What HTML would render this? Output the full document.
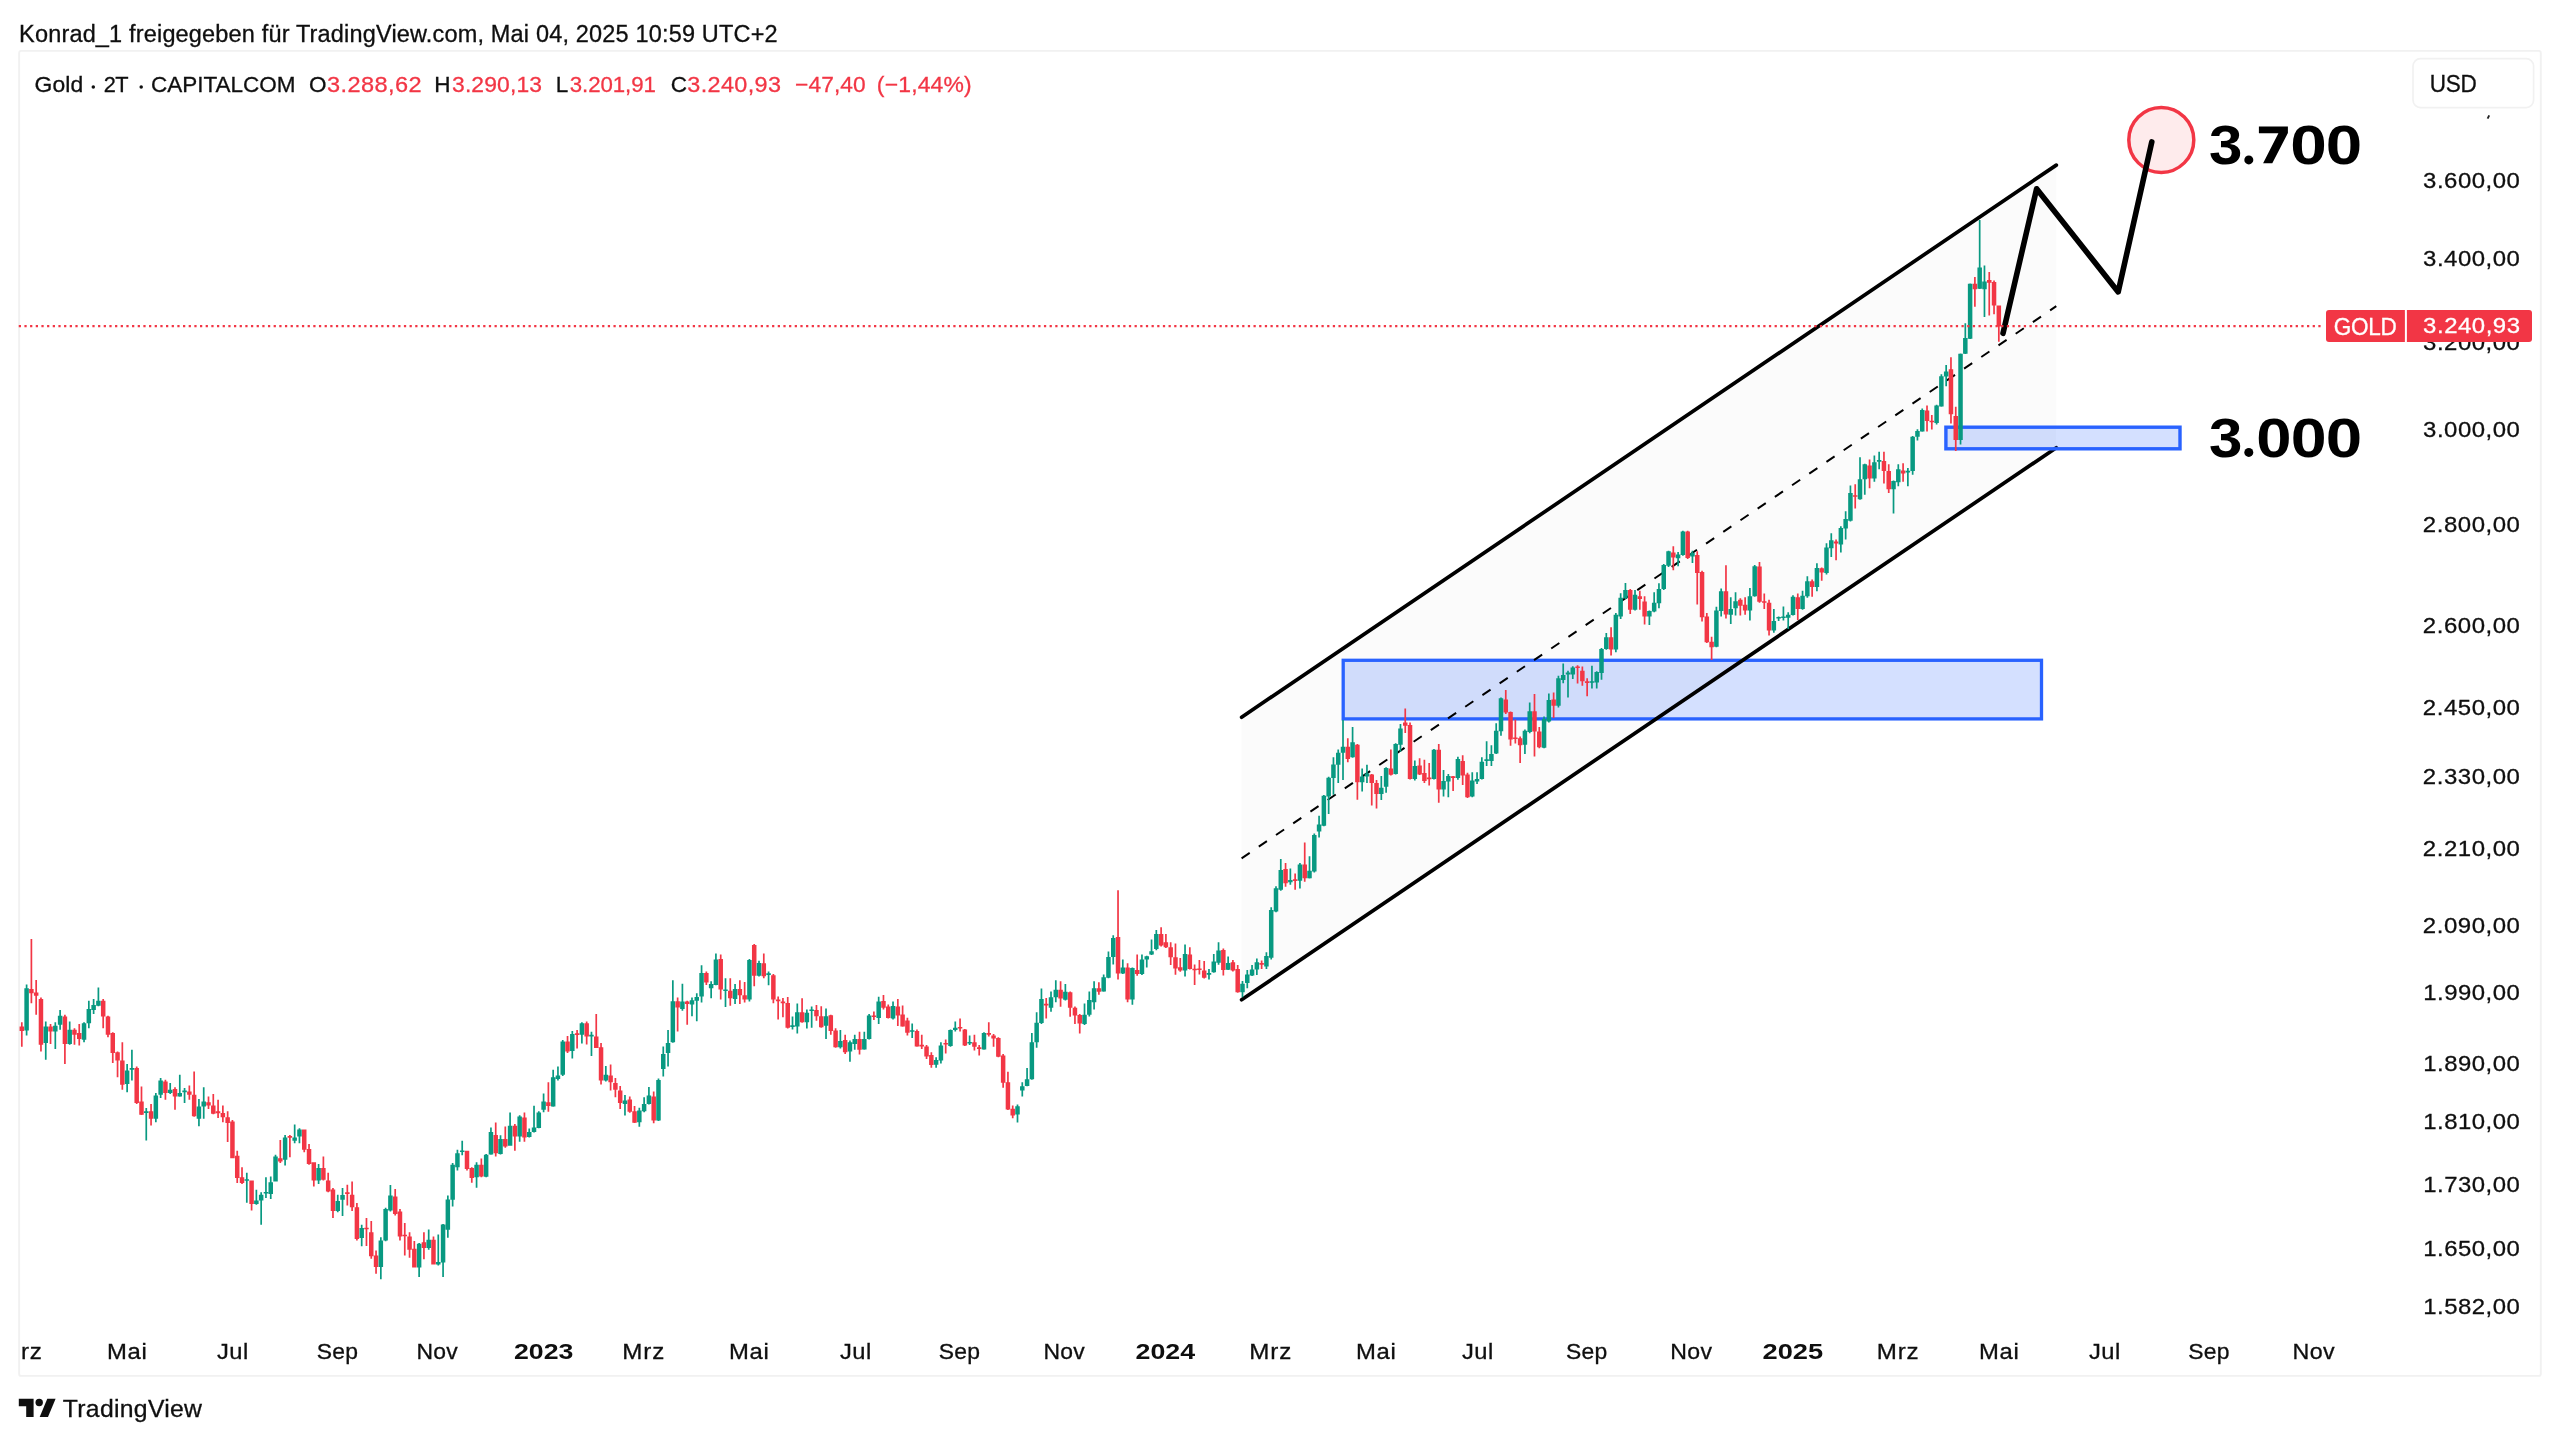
<!DOCTYPE html>
<html lang="de"><head><meta charset="utf-8"><title>Gold 2T</title>
<style>
html,body{margin:0;padding:0;background:#fff;}
body{width:2560px;height:1442px;overflow:hidden;font-family:"Liberation Sans",sans-serif;}
svg{display:block;position:absolute;left:0;top:0;will-change:transform;}
svg text{font-family:"Liberation Sans",sans-serif;white-space:pre;}
</style></head>
<body>
<svg width="2560" height="1442" viewBox="0 0 2560 1442">
<rect x="19.15" y="50.9" width="2521.65" height="1325" rx="2" fill="none" stroke="#f1f1f1" stroke-width="1.9"/>
<path d="M1241.6,717.2 L2056.3,165.1 L2056.3,447.7 L1241.6,999.8 Z" fill="#fbfbfb"/>
<rect x="1343.2" y="660.3" width="698.3" height="58.60000000000002" fill="rgba(41,98,255,0.2)" stroke="#2962ff" stroke-width="3.3"/>
<path d="M1241.6,858.3 L2056.3,306.2" stroke="#000" stroke-width="2" stroke-dasharray="9.8,10.98" fill="none"/>
<path d="M1241.6,717.2 L2056.3,165.1 M1241.6,999.8 L2056.3,447.7" stroke="#000" stroke-width="3.7" stroke-linecap="round" fill="none"/>
<rect x="1945.9" y="427.2" width="234.0999999999999" height="21.600000000000023" fill="rgba(41,98,255,0.2)" stroke="#2962ff" stroke-width="3.4"/>
<circle cx="2161.3" cy="139.9" r="32.5" fill="rgba(242,54,69,0.1)" stroke="#f23645" stroke-width="3.5"/>
<path d="M2003,333.3 L2036.6,188.8 L2118.2,291.9 L2151.8,141.9" stroke="#000" stroke-width="5.6" stroke-linecap="round" stroke-linejoin="round" fill="none"/>
<path d="M20.96,1022.3h1.7V1046.8h-1.7ZM19.56,1026.5h4.5V1031.1h-4.5ZM30.54,939.1h1.7V1003.2h-1.7ZM29.14,989.1h4.5V993.2h-4.5ZM35.32,979.9h1.7V1014.8h-1.7ZM33.92,992.4h4.5V995.7h-4.5ZM40.11,997.4h1.7V1051.4h-1.7ZM38.71,999.0h4.5V1044.8h-4.5ZM49.68,1024.0h1.7V1044.0h-1.7ZM48.28,1026.5h4.5V1031.5h-4.5ZM64.05,1014.8h1.7V1063.9h-1.7ZM62.65,1016.5h4.5V1044.0h-4.5ZM73.62,1028.2h1.7V1044.8h-1.7ZM72.22,1029.8h4.5V1034.8h-4.5ZM78.41,1024.0h1.7V1045.6h-1.7ZM77.01,1033.1h4.5V1039.0h-4.5ZM102.34,999.0h1.7V1028.2h-1.7ZM100.94,1000.7h4.5V1016.5h-4.5ZM107.13,1015.7h1.7V1037.3h-1.7ZM105.73,1016.5h4.5V1034.8h-4.5ZM111.92,1032.3h1.7V1063.1h-1.7ZM110.52,1033.1h4.5V1053.1h-4.5ZM116.70,1051.4h1.7V1077.2h-1.7ZM115.30,1052.3h4.5V1060.6h-4.5ZM121.49,1042.3h1.7V1089.7h-1.7ZM120.09,1060.6h4.5V1084.7h-4.5ZM135.85,1066.4h1.7V1103.9h-1.7ZM134.45,1068.1h4.5V1103.0h-4.5ZM140.64,1086.4h1.7V1115.0h-1.7ZM139.24,1101.4h4.5V1114.7h-4.5ZM150.21,1103.9h1.7V1125.5h-1.7ZM148.81,1111.3h4.5V1118.8h-4.5ZM164.57,1079.7h1.7V1099.7h-1.7ZM163.17,1081.4h4.5V1093.0h-4.5ZM174.15,1087.2h1.7V1109.7h-1.7ZM172.75,1088.9h4.5V1096.4h-4.5ZM188.51,1085.6h1.7V1099.7h-1.7ZM187.11,1091.4h4.5V1094.7h-4.5ZM193.29,1071.4h1.7V1116.7h-1.7ZM191.89,1094.7h4.5V1116.3h-4.5ZM207.65,1096.4h1.7V1108.9h-1.7ZM206.25,1102.2h4.5V1105.5h-4.5ZM212.44,1093.9h1.7V1114.3h-1.7ZM211.04,1105.5h4.5V1113.8h-4.5ZM217.23,1099.7h1.7V1118.0h-1.7ZM215.83,1111.3h4.5V1113.3h-4.5ZM222.02,1105.5h1.7V1122.2h-1.7ZM220.62,1113.0h4.5V1117.2h-4.5ZM226.80,1111.3h1.7V1142.1h-1.7ZM225.40,1117.2h4.5V1123.0h-4.5ZM231.59,1119.9h1.7V1158.2h-1.7ZM230.19,1121.5h4.5V1158.2h-4.5ZM236.38,1150.7h1.7V1183.1h-1.7ZM234.98,1155.7h4.5V1178.1h-4.5ZM241.16,1167.3h1.7V1183.9h-1.7ZM239.76,1177.3h4.5V1183.1h-4.5ZM250.74,1180.6h1.7V1210.6h-1.7ZM249.34,1180.6h4.5V1203.9h-4.5ZM279.46,1139.9h1.7V1163.1h-1.7ZM278.06,1158.2h4.5V1161.5h-4.5ZM289.03,1134.9h1.7V1157.3h-1.7ZM287.63,1136.1h4.5V1137.7h-4.5ZM303.39,1129.5h1.7V1152.3h-1.7ZM301.99,1129.5h4.5V1149.8h-4.5ZM308.18,1144.0h1.7V1164.8h-1.7ZM306.78,1149.0h4.5V1164.0h-4.5ZM312.97,1162.3h1.7V1186.4h-1.7ZM311.57,1162.3h4.5V1180.6h-4.5ZM322.54,1156.5h1.7V1180.6h-1.7ZM321.14,1168.1h4.5V1179.8h-4.5ZM327.33,1172.8h1.7V1192.3h-1.7ZM325.93,1180.6h4.5V1191.4h-4.5ZM332.12,1188.1h1.7V1218.1h-1.7ZM330.72,1189.4h4.5V1211.1h-4.5ZM346.48,1184.8h1.7V1205.6h-1.7ZM345.08,1192.3h4.5V1193.9h-4.5ZM351.26,1181.4h1.7V1211.1h-1.7ZM349.86,1194.8h4.5V1207.2h-4.5ZM356.05,1203.1h1.7V1240.5h-1.7ZM354.65,1207.2h4.5V1238.9h-4.5ZM365.62,1218.1h1.7V1246.0h-1.7ZM364.22,1227.7h4.5V1229.3h-4.5ZM370.41,1221.0h1.7V1258.8h-1.7ZM369.01,1232.2h4.5V1256.3h-4.5ZM375.20,1250.5h1.7V1273.8h-1.7ZM373.80,1255.5h4.5V1267.1h-4.5ZM394.35,1188.9h1.7V1215.6h-1.7ZM392.95,1196.4h4.5V1213.9h-4.5ZM399.13,1208.9h1.7V1240.5h-1.7ZM397.73,1211.4h4.5V1236.4h-4.5ZM403.92,1223.0h1.7V1255.5h-1.7ZM402.52,1234.7h4.5V1236.3h-4.5ZM408.71,1232.2h1.7V1257.7h-1.7ZM407.31,1236.4h4.5V1249.7h-4.5ZM413.49,1241.0h1.7V1267.6h-1.7ZM412.09,1248.8h4.5V1267.6h-4.5ZM423.07,1232.2h1.7V1259.3h-1.7ZM421.67,1242.2h4.5V1248.0h-4.5ZM432.64,1236.4h1.7V1264.6h-1.7ZM431.24,1239.7h4.5V1264.6h-4.5ZM466.15,1150.7h1.7V1170.6h-1.7ZM464.75,1150.7h4.5V1169.0h-4.5ZM470.94,1167.3h1.7V1182.8h-1.7ZM469.54,1168.1h4.5V1178.1h-4.5ZM480.51,1158.5h1.7V1177.3h-1.7ZM479.11,1164.8h4.5V1176.5h-4.5ZM494.87,1122.5h1.7V1156.5h-1.7ZM493.47,1134.9h4.5V1153.2h-4.5ZM504.45,1126.5h1.7V1147.8h-1.7ZM503.05,1139.0h4.5V1146.5h-4.5ZM514.02,1124.0h1.7V1150.7h-1.7ZM512.62,1125.7h4.5V1136.5h-4.5ZM523.59,1112.4h1.7V1141.8h-1.7ZM522.19,1117.4h4.5V1137.4h-4.5ZM547.53,1082.2h1.7V1111.7h-1.7ZM546.13,1102.2h4.5V1106.0h-4.5ZM566.68,1036.1h1.7V1053.1h-1.7ZM565.28,1041.5h4.5V1051.4h-4.5ZM576.25,1030.1h1.7V1048.5h-1.7ZM574.85,1033.3h4.5V1034.9h-4.5ZM585.82,1021.5h1.7V1044.5h-1.7ZM584.42,1023.2h4.5V1036.5h-4.5ZM595.40,1014.0h1.7V1048.1h-1.7ZM594.00,1036.5h4.5V1048.1h-4.5ZM600.19,1043.1h1.7V1084.4h-1.7ZM598.79,1047.3h4.5V1080.6h-4.5ZM609.76,1064.4h1.7V1090.5h-1.7ZM608.36,1075.6h4.5V1082.2h-4.5ZM614.55,1078.1h1.7V1097.2h-1.7ZM613.15,1083.1h4.5V1089.7h-4.5ZM619.33,1086.1h1.7V1108.9h-1.7ZM617.93,1090.5h4.5V1103.0h-4.5ZM628.91,1096.4h1.7V1112.7h-1.7ZM627.51,1099.4h4.5V1111.7h-4.5ZM633.69,1106.0h1.7V1123.0h-1.7ZM632.29,1111.3h4.5V1122.7h-4.5ZM652.84,1091.4h1.7V1123.3h-1.7ZM651.44,1096.4h4.5V1120.5h-4.5ZM676.78,997.4h1.7V1031.5h-1.7ZM675.38,1001.2h4.5V1007.4h-4.5ZM686.35,1000.7h1.7V1024.8h-1.7ZM684.95,1001.5h4.5V1004.0h-4.5ZM705.50,971.6h1.7V984.9h-1.7ZM704.10,972.9h4.5V982.4h-4.5ZM719.86,954.6h1.7V999.5h-1.7ZM718.46,959.1h4.5V989.6h-4.5ZM729.43,978.2h1.7V1005.7h-1.7ZM728.03,990.7h4.5V998.2h-4.5ZM739.01,980.2h1.7V1004.0h-1.7ZM737.61,989.1h4.5V995.2h-4.5ZM743.79,981.9h1.7V1002.4h-1.7ZM742.39,995.2h4.5V999.5h-4.5ZM753.37,944.1h1.7V986.2h-1.7ZM751.97,945.0h4.5V975.7h-4.5ZM762.94,953.6h1.7V978.2h-1.7ZM761.54,963.3h4.5V976.2h-4.5ZM772.52,974.1h1.7V1003.2h-1.7ZM771.12,975.2h4.5V999.5h-4.5ZM777.30,996.5h1.7V1019.5h-1.7ZM775.90,999.5h4.5V1001.2h-4.5ZM782.09,997.9h1.7V1017.3h-1.7ZM780.69,1001.5h4.5V1003.2h-4.5ZM786.88,996.9h1.7V1028.5h-1.7ZM785.48,1002.9h4.5V1027.8h-4.5ZM801.24,998.2h1.7V1022.8h-1.7ZM799.84,1012.3h4.5V1022.3h-4.5ZM815.60,1004.9h1.7V1020.7h-1.7ZM814.20,1009.9h4.5V1016.2h-4.5ZM820.39,1006.2h1.7V1027.8h-1.7ZM818.99,1016.2h4.5V1027.3h-4.5ZM829.96,1014.8h1.7V1034.8h-1.7ZM828.56,1015.2h4.5V1031.1h-4.5ZM834.75,1028.2h1.7V1047.8h-1.7ZM833.35,1030.6h4.5V1047.3h-4.5ZM844.32,1034.8h1.7V1053.9h-1.7ZM842.92,1040.1h4.5V1052.3h-4.5ZM858.68,1031.8h1.7V1054.4h-1.7ZM857.28,1038.9h4.5V1049.7h-4.5ZM873.04,1011.5h1.7V1020.1h-1.7ZM871.64,1015.4h4.5V1017.0h-4.5ZM882.62,995.1h1.7V1009.5h-1.7ZM881.22,1001.1h4.5V1007.8h-4.5ZM887.40,1004.5h1.7V1018.4h-1.7ZM886.00,1006.5h4.5V1018.1h-4.5ZM896.98,999.0h1.7V1026.1h-1.7ZM895.58,1006.5h4.5V1015.6h-4.5ZM901.76,1005.6h1.7V1026.8h-1.7ZM900.36,1014.5h4.5V1026.4h-4.5ZM906.55,1017.8h1.7V1035.6h-1.7ZM905.15,1020.6h4.5V1032.8h-4.5ZM916.12,1029.4h1.7V1046.7h-1.7ZM914.72,1031.1h4.5V1046.4h-4.5ZM920.91,1034.8h1.7V1048.9h-1.7ZM919.51,1044.8h4.5V1046.4h-4.5ZM925.70,1045.1h1.7V1058.9h-1.7ZM924.30,1046.4h4.5V1056.4h-4.5ZM930.49,1052.2h1.7V1067.7h-1.7ZM929.09,1055.0h4.5V1065.0h-4.5ZM944.85,1039.4h1.7V1053.4h-1.7ZM943.45,1042.9h4.5V1044.5h-4.5ZM959.21,1018.4h1.7V1031.4h-1.7ZM957.81,1027.0h4.5V1028.6h-4.5ZM963.99,1028.9h1.7V1046.1h-1.7ZM962.59,1029.4h4.5V1045.6h-4.5ZM973.57,1034.8h1.7V1050.6h-1.7ZM972.17,1042.2h4.5V1046.7h-4.5ZM978.36,1045.1h1.7V1055.5h-1.7ZM976.96,1047.2h4.5V1048.9h-4.5ZM987.93,1022.3h1.7V1036.4h-1.7ZM986.53,1033.1h4.5V1034.8h-4.5ZM992.72,1033.9h1.7V1046.7h-1.7ZM991.32,1035.6h4.5V1038.4h-4.5ZM997.50,1037.2h1.7V1057.2h-1.7ZM996.10,1038.1h4.5V1056.7h-4.5ZM1002.29,1053.9h1.7V1087.7h-1.7ZM1000.89,1055.5h4.5V1082.7h-4.5ZM1007.08,1071.7h1.7V1110.0h-1.7ZM1005.68,1082.2h4.5V1109.6h-4.5ZM1011.86,1105.5h1.7V1118.3h-1.7ZM1010.46,1108.8h4.5V1115.4h-4.5ZM1045.37,998.1h1.7V1018.4h-1.7ZM1043.97,1003.8h4.5V1005.4h-4.5ZM1059.73,981.2h1.7V1006.8h-1.7ZM1058.33,989.8h4.5V998.5h-4.5ZM1069.31,991.5h1.7V1016.8h-1.7ZM1067.91,992.3h4.5V1007.8h-4.5ZM1074.09,1006.5h1.7V1023.9h-1.7ZM1072.69,1007.8h4.5V1015.6h-4.5ZM1078.88,1014.0h1.7V1033.4h-1.7ZM1077.48,1015.1h4.5V1023.4h-4.5ZM1098.03,982.3h1.7V994.8h-1.7ZM1096.63,988.2h4.5V991.8h-4.5ZM1117.18,890.3h1.7V979.5h-1.7ZM1115.78,936.9h4.5V973.5h-4.5ZM1126.75,963.2h1.7V1002.3h-1.7ZM1125.35,967.4h4.5V999.5h-4.5ZM1136.33,954.6h1.7V975.7h-1.7ZM1134.93,969.9h4.5V974.0h-4.5ZM1160.26,927.3h1.7V946.4h-1.7ZM1158.86,933.9h4.5V945.6h-4.5ZM1165.05,933.9h1.7V948.1h-1.7ZM1163.65,942.2h4.5V947.2h-4.5ZM1169.83,942.2h1.7V965.0h-1.7ZM1168.43,947.2h4.5V957.2h-4.5ZM1174.62,943.4h1.7V974.7h-1.7ZM1173.22,957.2h4.5V968.4h-4.5ZM1179.41,958.1h1.7V971.7h-1.7ZM1178.01,967.2h4.5V970.5h-4.5ZM1188.98,947.2h1.7V969.4h-1.7ZM1187.58,954.4h4.5V968.9h-4.5ZM1193.77,964.4h1.7V985.0h-1.7ZM1192.37,968.7h4.5V970.3h-4.5ZM1198.56,960.0h1.7V974.4h-1.7ZM1197.16,968.5h4.5V970.1h-4.5ZM1203.34,961.0h1.7V978.4h-1.7ZM1201.94,970.5h4.5V977.7h-4.5ZM1222.49,948.4h1.7V975.5h-1.7ZM1221.09,950.1h4.5V970.0h-4.5ZM1232.06,960.0h1.7V971.4h-1.7ZM1230.66,962.2h4.5V970.5h-4.5ZM1236.85,965.0h1.7V992.7h-1.7ZM1235.45,968.9h4.5V992.2h-4.5ZM1260.79,960.5h1.7V968.9h-1.7ZM1259.39,963.1h4.5V964.7h-4.5ZM1284.72,862.9h1.7V886.8h-1.7ZM1283.32,869.0h4.5V883.2h-4.5ZM1294.29,873.5h1.7V889.8h-1.7ZM1292.89,879.3h4.5V880.9h-4.5ZM1303.87,842.4h1.7V881.8h-1.7ZM1302.47,864.5h4.5V878.2h-4.5ZM1346.95,738.2h1.7V762.3h-1.7ZM1345.55,746.8h4.5V759.0h-4.5ZM1356.53,744.0h1.7V799.8h-1.7ZM1355.13,744.8h4.5V782.3h-4.5ZM1370.89,774.0h1.7V805.6h-1.7ZM1369.49,774.5h4.5V783.1h-4.5ZM1375.67,780.1h1.7V808.4h-1.7ZM1374.27,783.1h4.5V793.9h-4.5ZM1390.03,749.5h1.7V775.6h-1.7ZM1388.63,768.5h4.5V774.8h-4.5ZM1404.40,708.6h1.7V732.9h-1.7ZM1403.00,722.4h4.5V725.7h-4.5ZM1409.18,722.4h1.7V779.5h-1.7ZM1407.78,724.9h4.5V779.0h-4.5ZM1418.76,758.2h1.7V775.1h-1.7ZM1417.36,765.6h4.5V774.5h-4.5ZM1423.54,759.8h1.7V783.1h-1.7ZM1422.14,773.1h4.5V781.1h-4.5ZM1428.33,763.1h1.7V785.6h-1.7ZM1426.93,777.6h4.5V779.2h-4.5ZM1437.90,744.0h1.7V802.7h-1.7ZM1436.50,749.8h4.5V789.4h-4.5ZM1452.26,776.1h1.7V791.1h-1.7ZM1450.86,776.3h4.5V777.9h-4.5ZM1461.84,755.2h1.7V785.1h-1.7ZM1460.44,761.1h4.5V775.6h-4.5ZM1466.63,772.8h1.7V798.1h-1.7ZM1465.23,774.5h4.5V797.3h-4.5ZM1504.92,689.9h1.7V714.1h-1.7ZM1503.52,699.6h4.5V712.4h-4.5ZM1509.71,711.6h1.7V745.7h-1.7ZM1508.31,711.9h4.5V739.5h-4.5ZM1514.50,719.6h1.7V743.5h-1.7ZM1513.10,737.4h4.5V739.0h-4.5ZM1519.28,736.5h1.7V763.1h-1.7ZM1517.88,738.2h4.5V745.2h-4.5ZM1533.64,694.1h1.7V756.5h-1.7ZM1532.24,711.2h4.5V731.5h-4.5ZM1538.43,726.9h1.7V748.2h-1.7ZM1537.03,731.5h4.5V747.3h-4.5ZM1552.79,692.4h1.7V717.9h-1.7ZM1551.39,699.6h4.5V705.7h-4.5ZM1576.73,665.3h1.7V683.6h-1.7ZM1575.33,666.5h4.5V668.1h-4.5ZM1581.51,666.6h1.7V685.8h-1.7ZM1580.11,670.8h4.5V681.3h-4.5ZM1586.30,678.3h1.7V696.3h-1.7ZM1584.90,681.3h4.5V682.9h-4.5ZM1610.23,627.3h1.7V655.6h-1.7ZM1608.83,637.3h4.5V649.4h-4.5ZM1629.38,589.0h1.7V614.0h-1.7ZM1627.98,589.9h4.5V609.8h-4.5ZM1638.96,590.7h1.7V609.8h-1.7ZM1637.56,596.2h4.5V599.0h-4.5ZM1643.74,596.2h1.7V624.5h-1.7ZM1642.34,601.5h4.5V616.5h-4.5ZM1672.46,546.3h1.7V570.2h-1.7ZM1671.06,552.4h4.5V557.4h-4.5ZM1686.83,530.8h1.7V559.1h-1.7ZM1685.43,531.6h4.5V557.9h-4.5ZM1696.40,551.2h1.7V604.5h-1.7ZM1695.00,554.9h4.5V572.9h-4.5ZM1701.19,570.7h1.7V621.5h-1.7ZM1699.79,571.9h4.5V617.3h-4.5ZM1705.97,613.1h1.7V643.1h-1.7ZM1704.57,616.5h4.5V642.3h-4.5ZM1710.76,636.8h1.7V660.1h-1.7ZM1709.36,641.8h4.5V647.3h-4.5ZM1725.12,565.2h1.7V618.5h-1.7ZM1723.72,591.2h4.5V614.5h-4.5ZM1739.48,598.2h1.7V615.6h-1.7ZM1738.08,599.8h4.5V605.7h-4.5ZM1744.27,597.3h1.7V614.8h-1.7ZM1742.87,604.8h4.5V610.6h-4.5ZM1758.63,561.9h1.7V602.8h-1.7ZM1757.23,566.6h4.5V601.8h-4.5ZM1763.42,593.5h1.7V609.0h-1.7ZM1762.02,601.2h4.5V602.8h-4.5ZM1768.20,599.8h1.7V635.6h-1.7ZM1766.80,602.8h4.5V630.6h-4.5ZM1796.93,593.5h1.7V620.1h-1.7ZM1795.53,597.3h4.5V609.0h-4.5ZM1811.29,579.5h1.7V596.8h-1.7ZM1809.89,581.2h4.5V586.9h-4.5ZM1820.86,567.4h1.7V580.7h-1.7ZM1819.46,568.2h4.5V572.4h-4.5ZM1835.22,539.6h1.7V560.2h-1.7ZM1833.82,541.6h4.5V543.6h-4.5ZM1854.37,484.2h1.7V508.5h-1.7ZM1852.97,495.2h4.5V496.8h-4.5ZM1868.73,459.6h1.7V488.3h-1.7ZM1867.33,465.5h4.5V478.6h-4.5ZM1883.09,451.7h1.7V483.6h-1.7ZM1881.69,461.1h4.5V471.1h-4.5ZM1887.88,464.2h1.7V492.9h-1.7ZM1886.48,471.1h4.5V489.2h-4.5ZM1902.24,463.3h1.7V481.7h-1.7ZM1900.84,470.4h4.5V473.6h-4.5ZM1926.17,405.5h1.7V431.4h-1.7ZM1924.77,410.5h4.5V421.1h-4.5ZM1930.96,415.1h1.7V429.6h-1.7ZM1929.56,420.7h4.5V422.3h-4.5ZM1950.11,357.2h1.7V423.6h-1.7ZM1948.71,369.3h4.5V414.3h-4.5ZM1954.90,406.8h1.7V451.1h-1.7ZM1953.50,416.1h4.5V439.9h-4.5ZM1974.04,277.1h1.7V306.7h-1.7ZM1972.64,283.8h4.5V289.3h-4.5ZM1988.40,272.1h1.7V315.4h-1.7ZM1987.00,279.9h4.5V282.7h-4.5ZM1993.19,280.4h1.7V314.3h-1.7ZM1991.79,282.1h4.5V305.4h-4.5ZM1997.98,305.4h1.7V341.8h-1.7ZM1996.58,305.4h4.5V326.5h-4.5Z" fill="#f23645"/>
<path d="M25.75,984.6h1.7V1035.6h-1.7ZM24.35,988.2h4.5V1030.6h-4.5ZM44.90,1021.5h1.7V1059.8h-1.7ZM43.50,1026.5h4.5V1043.1h-4.5ZM54.47,1022.3h1.7V1049.0h-1.7ZM53.07,1025.7h4.5V1031.5h-4.5ZM59.26,1009.9h1.7V1029.8h-1.7ZM57.86,1015.7h4.5V1024.8h-4.5ZM68.83,1021.5h1.7V1044.8h-1.7ZM67.43,1029.8h4.5V1044.0h-4.5ZM83.19,1022.3h1.7V1042.3h-1.7ZM81.79,1023.2h4.5V1039.8h-4.5ZM87.98,1000.7h1.7V1028.2h-1.7ZM86.58,1009.0h4.5V1023.2h-4.5ZM92.77,999.0h1.7V1014.0h-1.7ZM91.37,1004.9h4.5V1009.9h-4.5ZM97.55,987.4h1.7V1006.2h-1.7ZM96.15,1000.7h4.5V1005.7h-4.5ZM126.28,1063.9h1.7V1092.2h-1.7ZM124.88,1070.6h4.5V1083.9h-4.5ZM131.06,1049.8h1.7V1080.6h-1.7ZM129.66,1068.1h4.5V1069.8h-4.5ZM145.42,1108.0h1.7V1140.5h-1.7ZM144.02,1111.3h4.5V1113.0h-4.5ZM155.00,1093.0h1.7V1122.2h-1.7ZM153.60,1095.5h4.5V1118.8h-4.5ZM159.78,1078.1h1.7V1098.0h-1.7ZM158.38,1080.6h4.5V1094.7h-4.5ZM169.36,1083.1h1.7V1093.9h-1.7ZM167.96,1089.7h4.5V1093.0h-4.5ZM178.93,1074.7h1.7V1096.7h-1.7ZM177.53,1093.0h4.5V1096.4h-4.5ZM183.72,1088.1h1.7V1103.0h-1.7ZM182.32,1090.5h4.5V1092.2h-4.5ZM198.08,1098.9h1.7V1126.3h-1.7ZM196.68,1106.4h4.5V1118.8h-4.5ZM202.87,1087.2h1.7V1118.8h-1.7ZM201.47,1101.4h4.5V1106.4h-4.5ZM245.95,1172.8h1.7V1202.7h-1.7ZM244.55,1179.2h4.5V1180.8h-4.5ZM255.52,1189.8h1.7V1204.7h-1.7ZM254.12,1200.6h4.5V1203.9h-4.5ZM260.31,1192.3h1.7V1224.7h-1.7ZM258.91,1194.8h4.5V1200.6h-4.5ZM265.10,1177.3h1.7V1198.1h-1.7ZM263.70,1191.9h4.5V1193.5h-4.5ZM269.89,1176.5h1.7V1198.9h-1.7ZM268.49,1182.3h4.5V1193.9h-4.5ZM274.67,1154.8h1.7V1181.4h-1.7ZM273.27,1156.5h4.5V1181.4h-4.5ZM284.25,1134.9h1.7V1165.6h-1.7ZM282.85,1137.4h4.5V1159.8h-4.5ZM293.82,1124.5h1.7V1143.2h-1.7ZM292.42,1137.4h4.5V1140.7h-4.5ZM298.61,1128.2h1.7V1143.2h-1.7ZM297.21,1129.5h4.5V1136.5h-4.5ZM317.75,1164.0h1.7V1183.9h-1.7ZM316.35,1168.1h4.5V1180.6h-4.5ZM336.90,1194.8h1.7V1212.2h-1.7ZM335.50,1201.1h4.5V1211.1h-4.5ZM341.69,1188.1h1.7V1216.1h-1.7ZM340.29,1195.1h4.5V1199.8h-4.5ZM360.84,1224.7h1.7V1246.3h-1.7ZM359.44,1228.0h4.5V1238.0h-4.5ZM379.99,1237.2h1.7V1279.3h-1.7ZM378.59,1240.5h4.5V1267.1h-4.5ZM384.77,1207.7h1.7V1241.3h-1.7ZM383.37,1208.9h4.5V1240.5h-4.5ZM389.56,1185.1h1.7V1211.4h-1.7ZM388.16,1195.6h4.5V1210.6h-4.5ZM418.28,1243.0h1.7V1277.1h-1.7ZM416.88,1243.8h4.5V1267.6h-4.5ZM427.85,1229.4h1.7V1249.7h-1.7ZM426.45,1239.7h4.5V1248.0h-4.5ZM437.43,1234.4h1.7V1265.5h-1.7ZM436.03,1262.1h4.5V1264.6h-4.5ZM442.22,1223.9h1.7V1277.1h-1.7ZM440.82,1224.4h4.5V1262.6h-4.5ZM447.00,1195.6h1.7V1237.7h-1.7ZM445.60,1199.4h4.5V1229.7h-4.5ZM451.79,1163.1h1.7V1206.4h-1.7ZM450.39,1164.8h4.5V1199.8h-4.5ZM456.58,1149.8h1.7V1170.6h-1.7ZM455.18,1153.2h4.5V1167.3h-4.5ZM461.36,1140.7h1.7V1155.2h-1.7ZM459.96,1150.4h4.5V1152.0h-4.5ZM475.72,1162.3h1.7V1187.8h-1.7ZM474.32,1164.8h4.5V1177.3h-4.5ZM485.30,1154.0h1.7V1177.3h-1.7ZM483.90,1154.8h4.5V1176.8h-4.5ZM490.09,1127.4h1.7V1154.8h-1.7ZM488.69,1131.9h4.5V1154.5h-4.5ZM499.66,1135.2h1.7V1154.5h-1.7ZM498.26,1139.0h4.5V1154.0h-4.5ZM509.23,1112.4h1.7V1145.7h-1.7ZM507.83,1125.7h4.5V1145.7h-4.5ZM518.81,1115.2h1.7V1141.8h-1.7ZM517.41,1116.6h4.5V1136.5h-4.5ZM528.38,1128.5h1.7V1137.4h-1.7ZM526.98,1131.9h4.5V1136.9h-4.5ZM533.17,1105.7h1.7V1132.4h-1.7ZM531.77,1127.4h4.5V1131.9h-4.5ZM537.95,1111.2h1.7V1128.2h-1.7ZM536.55,1112.4h4.5V1127.9h-4.5ZM542.74,1093.4h1.7V1112.2h-1.7ZM541.34,1101.4h4.5V1109.7h-4.5ZM552.32,1069.8h1.7V1106.7h-1.7ZM550.92,1077.2h4.5V1106.4h-4.5ZM557.10,1066.4h1.7V1080.6h-1.7ZM555.70,1075.6h4.5V1078.9h-4.5ZM561.89,1040.1h1.7V1076.1h-1.7ZM560.49,1041.5h4.5V1074.7h-4.5ZM571.46,1031.1h1.7V1058.4h-1.7ZM570.06,1034.0h4.5V1051.1h-4.5ZM581.04,1022.3h1.7V1043.5h-1.7ZM579.64,1023.2h4.5V1034.8h-4.5ZM590.61,1031.8h1.7V1056.1h-1.7ZM589.21,1034.8h4.5V1036.4h-4.5ZM604.97,1066.1h1.7V1081.4h-1.7ZM603.57,1074.7h4.5V1080.6h-4.5ZM624.12,1095.0h1.7V1115.5h-1.7ZM622.72,1100.5h4.5V1103.9h-4.5ZM638.48,1107.7h1.7V1126.7h-1.7ZM637.08,1110.5h4.5V1122.2h-4.5ZM643.27,1097.2h1.7V1112.2h-1.7ZM641.87,1103.9h4.5V1111.3h-4.5ZM648.06,1086.9h1.7V1104.4h-1.7ZM646.66,1095.5h4.5V1103.9h-4.5ZM657.63,1078.4h1.7V1121.0h-1.7ZM656.23,1080.1h4.5V1120.5h-4.5ZM662.42,1046.5h1.7V1076.4h-1.7ZM661.02,1053.9h4.5V1068.9h-4.5ZM667.20,1030.1h1.7V1066.4h-1.7ZM665.80,1043.1h4.5V1053.1h-4.5ZM671.99,980.2h1.7V1042.8h-1.7ZM670.59,1001.2h4.5V1042.3h-4.5ZM681.56,983.7h1.7V1010.7h-1.7ZM680.16,1001.5h4.5V1009.0h-4.5ZM691.14,997.4h1.7V1016.2h-1.7ZM689.74,1000.2h4.5V1004.5h-4.5ZM695.92,993.2h1.7V1021.2h-1.7ZM694.52,996.9h4.5V1000.7h-4.5ZM700.71,965.3h1.7V1002.4h-1.7ZM699.31,972.9h4.5V996.5h-4.5ZM710.29,981.2h1.7V998.2h-1.7ZM708.89,984.1h4.5V988.2h-4.5ZM715.07,953.6h1.7V985.2h-1.7ZM713.67,959.6h4.5V984.9h-4.5ZM724.65,978.2h1.7V1006.9h-1.7ZM723.25,989.5h4.5V991.1h-4.5ZM734.22,984.1h1.7V1004.0h-1.7ZM732.82,989.1h4.5V999.0h-4.5ZM748.58,959.1h1.7V1001.5h-1.7ZM747.18,959.9h4.5V999.5h-4.5ZM758.16,960.8h1.7V976.6h-1.7ZM756.76,962.9h4.5V975.7h-4.5ZM767.73,971.6h1.7V985.2h-1.7ZM766.33,973.3h4.5V974.9h-4.5ZM791.66,1016.5h1.7V1029.5h-1.7ZM790.26,1025.3h4.5V1026.9h-4.5ZM796.45,1003.5h1.7V1033.5h-1.7ZM795.05,1012.3h4.5V1026.5h-4.5ZM806.02,1009.5h1.7V1028.5h-1.7ZM804.62,1012.8h4.5V1022.3h-4.5ZM810.81,1006.5h1.7V1027.8h-1.7ZM809.41,1009.5h4.5V1011.1h-4.5ZM825.17,1008.5h1.7V1039.0h-1.7ZM823.77,1016.2h4.5V1025.7h-4.5ZM839.53,1030.1h1.7V1048.5h-1.7ZM838.13,1041.1h4.5V1047.3h-4.5ZM849.11,1040.6h1.7V1061.7h-1.7ZM847.71,1042.2h4.5V1051.4h-4.5ZM853.89,1034.8h1.7V1049.7h-1.7ZM852.49,1038.9h4.5V1043.9h-4.5ZM863.47,1031.8h1.7V1049.7h-1.7ZM862.07,1038.9h4.5V1049.4h-4.5ZM868.26,1014.0h1.7V1039.4h-1.7ZM866.86,1015.6h4.5V1038.9h-4.5ZM877.83,996.8h1.7V1023.9h-1.7ZM876.43,1001.5h4.5V1018.1h-4.5ZM892.19,1001.5h1.7V1019.4h-1.7ZM890.79,1006.1h4.5V1018.4h-4.5ZM911.34,1023.4h1.7V1038.1h-1.7ZM909.94,1030.2h4.5V1031.8h-4.5ZM935.27,1057.2h1.7V1067.7h-1.7ZM933.87,1060.0h4.5V1064.7h-4.5ZM940.06,1042.2h1.7V1063.4h-1.7ZM938.66,1045.6h4.5V1060.5h-4.5ZM949.63,1029.4h1.7V1046.7h-1.7ZM948.23,1030.1h4.5V1046.1h-4.5ZM954.42,1021.4h1.7V1031.4h-1.7ZM953.02,1027.8h4.5V1030.1h-4.5ZM968.78,1035.6h1.7V1045.1h-1.7ZM967.38,1041.9h4.5V1043.5h-4.5ZM983.14,1032.3h1.7V1049.7h-1.7ZM981.74,1033.1h4.5V1049.4h-4.5ZM1016.65,1104.6h1.7V1122.6h-1.7ZM1015.25,1106.3h4.5V1114.6h-4.5ZM1021.44,1082.2h1.7V1096.6h-1.7ZM1020.04,1086.3h4.5V1090.5h-4.5ZM1026.23,1068.0h1.7V1086.3h-1.7ZM1024.83,1079.3h4.5V1086.0h-4.5ZM1031.01,1033.1h1.7V1079.7h-1.7ZM1029.61,1042.2h4.5V1079.3h-4.5ZM1035.80,1012.3h1.7V1047.7h-1.7ZM1034.40,1022.8h4.5V1042.2h-4.5ZM1040.59,988.5h1.7V1023.9h-1.7ZM1039.19,999.0h4.5V1023.1h-4.5ZM1050.16,991.5h1.7V1011.8h-1.7ZM1048.76,997.3h4.5V1007.8h-4.5ZM1054.95,980.2h1.7V1002.3h-1.7ZM1053.55,989.8h4.5V997.3h-4.5ZM1064.52,984.0h1.7V1000.6h-1.7ZM1063.12,991.8h4.5V999.8h-4.5ZM1083.67,1003.5h1.7V1025.1h-1.7ZM1082.27,1014.8h4.5V1023.9h-4.5ZM1088.46,991.5h1.7V1016.4h-1.7ZM1087.06,1000.1h4.5V1014.8h-4.5ZM1093.24,981.2h1.7V1009.5h-1.7ZM1091.84,988.2h4.5V1002.3h-4.5ZM1102.82,974.5h1.7V991.8h-1.7ZM1101.42,977.3h4.5V991.5h-4.5ZM1107.60,951.6h1.7V978.2h-1.7ZM1106.20,956.9h4.5V977.8h-4.5ZM1112.39,935.2h1.7V964.5h-1.7ZM1110.99,937.9h4.5V956.9h-4.5ZM1121.96,959.5h1.7V974.0h-1.7ZM1120.56,967.4h4.5V973.5h-4.5ZM1131.54,967.4h1.7V1004.8h-1.7ZM1130.14,967.9h4.5V999.5h-4.5ZM1141.11,954.6h1.7V974.9h-1.7ZM1139.71,959.5h4.5V974.0h-4.5ZM1145.90,955.7h1.7V967.4h-1.7ZM1144.50,956.2h4.5V959.5h-4.5ZM1150.69,939.6h1.7V954.9h-1.7ZM1149.29,951.2h4.5V954.6h-4.5ZM1155.47,929.9h1.7V950.2h-1.7ZM1154.07,934.1h4.5V949.1h-4.5ZM1184.19,944.4h1.7V976.4h-1.7ZM1182.79,953.9h4.5V970.5h-4.5ZM1208.13,968.9h1.7V979.4h-1.7ZM1206.73,973.1h4.5V974.7h-4.5ZM1212.92,953.9h1.7V972.7h-1.7ZM1211.52,961.4h4.5V972.2h-4.5ZM1217.70,942.2h1.7V964.7h-1.7ZM1216.30,950.6h4.5V962.7h-4.5ZM1227.28,956.4h1.7V970.0h-1.7ZM1225.88,963.0h4.5V969.7h-4.5ZM1241.64,981.0h1.7V997.2h-1.7ZM1240.24,983.8h4.5V992.2h-4.5ZM1246.43,970.0h1.7V988.3h-1.7ZM1245.03,974.4h4.5V983.0h-4.5ZM1251.21,965.0h1.7V976.0h-1.7ZM1249.81,969.4h4.5V975.5h-4.5ZM1256.00,958.4h1.7V975.0h-1.7ZM1254.60,962.2h4.5V969.4h-4.5ZM1265.57,952.2h1.7V968.9h-1.7ZM1264.17,956.1h4.5V966.4h-4.5ZM1270.36,907.3h1.7V959.4h-1.7ZM1268.96,910.1h4.5V957.7h-4.5ZM1275.15,886.2h1.7V912.3h-1.7ZM1273.75,888.2h4.5V911.5h-4.5ZM1279.93,859.1h1.7V890.7h-1.7ZM1278.53,869.9h4.5V889.8h-4.5ZM1289.51,868.5h1.7V884.8h-1.7ZM1288.11,879.9h4.5V882.3h-4.5ZM1299.08,862.9h1.7V888.5h-1.7ZM1297.68,864.5h4.5V880.7h-4.5ZM1308.66,856.2h1.7V878.5h-1.7ZM1307.26,870.7h4.5V878.2h-4.5ZM1313.44,833.6h1.7V872.4h-1.7ZM1312.04,834.9h4.5V871.5h-4.5ZM1318.23,815.8h1.7V837.4h-1.7ZM1316.83,824.6h4.5V831.6h-4.5ZM1323.02,795.0h1.7V826.3h-1.7ZM1321.62,795.8h4.5V825.8h-4.5ZM1327.80,776.8h1.7V813.9h-1.7ZM1326.40,777.8h4.5V796.4h-4.5ZM1332.59,757.3h1.7V794.8h-1.7ZM1331.19,764.5h4.5V778.1h-4.5ZM1337.38,749.5h1.7V783.1h-1.7ZM1335.98,752.8h4.5V764.8h-4.5ZM1342.16,719.9h1.7V780.1h-1.7ZM1340.76,746.8h4.5V752.8h-4.5ZM1351.74,726.9h1.7V757.8h-1.7ZM1350.34,742.3h4.5V757.3h-4.5ZM1361.31,768.5h1.7V791.4h-1.7ZM1359.91,776.5h4.5V782.3h-4.5ZM1366.10,764.8h1.7V783.1h-1.7ZM1364.70,773.5h4.5V776.5h-4.5ZM1380.46,776.1h1.7V800.1h-1.7ZM1379.06,787.8h4.5V793.9h-4.5ZM1385.25,767.3h1.7V792.8h-1.7ZM1383.85,768.1h4.5V786.8h-4.5ZM1394.82,743.2h1.7V774.5h-1.7ZM1393.42,744.0h4.5V774.0h-4.5ZM1399.61,724.0h1.7V751.8h-1.7ZM1398.21,728.5h4.5V744.8h-4.5ZM1413.97,760.6h1.7V780.6h-1.7ZM1412.57,766.1h4.5V779.0h-4.5ZM1433.12,749.0h1.7V779.5h-1.7ZM1431.72,749.8h4.5V779.0h-4.5ZM1442.69,770.1h1.7V796.4h-1.7ZM1441.29,781.1h4.5V789.4h-4.5ZM1447.48,774.0h1.7V797.3h-1.7ZM1446.08,776.1h4.5V781.4h-4.5ZM1457.05,756.8h1.7V779.8h-1.7ZM1455.65,759.0h4.5V778.1h-4.5ZM1471.41,772.3h1.7V797.3h-1.7ZM1470.01,780.6h4.5V796.4h-4.5ZM1476.20,772.3h1.7V783.9h-1.7ZM1474.80,779.0h4.5V781.4h-4.5ZM1480.99,757.3h1.7V779.5h-1.7ZM1479.59,761.8h4.5V779.0h-4.5ZM1485.77,741.2h1.7V766.1h-1.7ZM1484.37,759.3h4.5V760.9h-4.5ZM1490.56,745.2h1.7V766.1h-1.7ZM1489.16,754.0h4.5V761.1h-4.5ZM1495.35,723.2h1.7V754.0h-1.7ZM1493.95,730.7h4.5V753.5h-4.5ZM1500.13,697.4h1.7V735.7h-1.7ZM1498.73,698.3h4.5V731.2h-4.5ZM1524.07,729.5h1.7V754.0h-1.7ZM1522.67,730.7h4.5V744.8h-4.5ZM1528.86,702.4h1.7V733.2h-1.7ZM1527.46,711.2h4.5V731.9h-4.5ZM1543.22,716.6h1.7V748.2h-1.7ZM1541.82,719.1h4.5V747.8h-4.5ZM1548.00,693.6h1.7V722.4h-1.7ZM1546.60,699.9h4.5V721.5h-4.5ZM1557.58,675.8h1.7V707.4h-1.7ZM1556.18,678.3h4.5V705.7h-4.5ZM1562.36,663.6h1.7V683.3h-1.7ZM1560.96,675.0h4.5V680.0h-4.5ZM1567.15,670.8h1.7V697.4h-1.7ZM1565.75,672.5h4.5V674.6h-4.5ZM1571.94,666.3h1.7V679.1h-1.7ZM1570.54,667.5h4.5V674.6h-4.5ZM1591.09,665.8h1.7V688.6h-1.7ZM1589.69,681.2h4.5V682.8h-4.5ZM1595.87,671.3h1.7V688.6h-1.7ZM1594.47,672.0h4.5V682.4h-4.5ZM1600.66,648.1h1.7V679.7h-1.7ZM1599.26,648.9h4.5V673.0h-4.5ZM1605.45,633.1h1.7V649.8h-1.7ZM1604.05,637.3h4.5V648.9h-4.5ZM1615.02,613.1h1.7V652.2h-1.7ZM1613.62,614.8h4.5V649.4h-4.5ZM1619.81,593.2h1.7V619.0h-1.7ZM1618.41,597.8h4.5V616.5h-4.5ZM1624.60,582.9h1.7V599.0h-1.7ZM1623.20,589.9h4.5V598.2h-4.5ZM1634.17,589.9h1.7V610.6h-1.7ZM1632.77,594.8h4.5V609.8h-4.5ZM1648.53,610.6h1.7V625.1h-1.7ZM1647.13,611.1h4.5V616.5h-4.5ZM1653.32,592.3h1.7V612.3h-1.7ZM1651.92,602.8h4.5V611.5h-4.5ZM1658.10,583.2h1.7V608.2h-1.7ZM1656.70,589.0h4.5V603.2h-4.5ZM1662.89,564.1h1.7V589.9h-1.7ZM1661.49,564.9h4.5V589.0h-4.5ZM1667.68,550.7h1.7V566.9h-1.7ZM1666.28,551.2h4.5V565.7h-4.5ZM1677.25,551.9h1.7V566.2h-1.7ZM1675.85,554.6h4.5V558.2h-4.5ZM1682.04,530.8h1.7V555.7h-1.7ZM1680.64,531.6h4.5V554.9h-4.5ZM1691.61,550.7h1.7V562.9h-1.7ZM1690.21,552.9h4.5V556.6h-4.5ZM1715.55,606.8h1.7V647.3h-1.7ZM1714.15,610.6h4.5V646.8h-4.5ZM1720.33,588.5h1.7V616.5h-1.7ZM1718.93,591.2h4.5V611.1h-4.5ZM1729.91,597.3h1.7V624.0h-1.7ZM1728.51,609.0h4.5V614.8h-4.5ZM1734.70,592.3h1.7V615.6h-1.7ZM1733.30,601.2h4.5V608.2h-4.5ZM1749.06,587.9h1.7V620.6h-1.7ZM1747.66,596.2h4.5V610.6h-4.5ZM1753.84,564.9h1.7V596.8h-1.7ZM1752.44,566.2h4.5V596.2h-4.5ZM1772.99,609.0h1.7V632.8h-1.7ZM1771.59,621.1h4.5V630.6h-4.5ZM1777.78,616.5h1.7V621.1h-1.7ZM1776.38,616.9h4.5V618.5h-4.5ZM1782.57,606.5h1.7V620.6h-1.7ZM1781.17,616.5h4.5V618.1h-4.5ZM1787.35,612.3h1.7V629.0h-1.7ZM1785.95,614.8h4.5V617.8h-4.5ZM1792.14,595.2h1.7V615.6h-1.7ZM1790.74,596.8h4.5V615.1h-4.5ZM1801.71,590.7h1.7V609.8h-1.7ZM1800.31,595.7h4.5V609.0h-4.5ZM1806.50,576.2h1.7V597.8h-1.7ZM1805.10,581.2h4.5V596.2h-4.5ZM1816.07,563.2h1.7V591.2h-1.7ZM1814.67,567.9h4.5V586.9h-4.5ZM1825.65,543.3h1.7V574.5h-1.7ZM1824.25,547.4h4.5V572.9h-4.5ZM1830.43,533.3h1.7V556.9h-1.7ZM1829.03,540.3h4.5V548.3h-4.5ZM1840.01,526.3h1.7V552.4h-1.7ZM1838.61,528.0h4.5V544.6h-4.5ZM1844.80,511.3h1.7V539.6h-1.7ZM1843.40,519.1h4.5V528.6h-4.5ZM1849.58,485.4h1.7V521.6h-1.7ZM1848.18,492.9h4.5V520.8h-4.5ZM1859.16,457.3h1.7V499.8h-1.7ZM1857.76,479.2h4.5V499.2h-4.5ZM1863.94,463.8h1.7V494.8h-1.7ZM1862.54,464.2h4.5V479.2h-4.5ZM1873.52,455.5h1.7V481.7h-1.7ZM1872.12,462.3h4.5V478.6h-4.5ZM1878.30,451.7h1.7V469.2h-1.7ZM1876.90,460.1h4.5V461.7h-4.5ZM1892.67,480.4h1.7V513.5h-1.7ZM1891.27,481.1h4.5V489.2h-4.5ZM1897.45,464.2h1.7V486.3h-1.7ZM1896.05,469.2h4.5V482.3h-4.5ZM1907.03,468.0h1.7V486.3h-1.7ZM1905.63,470.8h4.5V472.4h-4.5ZM1911.81,436.1h1.7V474.8h-1.7ZM1910.41,436.7h4.5V471.1h-4.5ZM1916.60,429.3h1.7V440.5h-1.7ZM1915.20,431.1h4.5V436.7h-4.5ZM1921.39,408.4h1.7V431.7h-1.7ZM1919.99,409.9h4.5V431.4h-4.5ZM1935.75,404.7h1.7V424.6h-1.7ZM1934.35,405.5h4.5V423.0h-4.5ZM1940.53,374.3h1.7V406.8h-1.7ZM1939.13,376.2h4.5V406.4h-4.5ZM1945.32,365.0h1.7V386.2h-1.7ZM1943.92,371.4h4.5V376.4h-4.5ZM1959.68,353.5h1.7V444.6h-1.7ZM1958.28,353.7h4.5V439.9h-4.5ZM1964.47,323.2h1.7V354.0h-1.7ZM1963.07,338.1h4.5V353.7h-4.5ZM1969.26,283.4h1.7V338.9h-1.7ZM1967.86,283.8h4.5V338.7h-4.5ZM1978.83,220.0h1.7V289.0h-1.7ZM1977.43,267.5h4.5V288.8h-4.5ZM1983.62,265.5h1.7V317.1h-1.7ZM1982.22,281.6h4.5V289.3h-4.5Z" fill="#089981"/>
<path d="M18.75,326.1 H2323" stroke="#f23645" stroke-width="2.2" stroke-dasharray="2.25,3.414" fill="none"/>
<text transform="translate(2423.09,188.00) scale(1.0640,1)" font-size="22.5" fill="#0f0f0f" stroke="#0f0f0f" stroke-width="0.3" letter-spacing="0.492">3.600,00</text>
<text transform="translate(2423.09,266.30) scale(1.0640,1)" font-size="22.5" fill="#0f0f0f" stroke="#0f0f0f" stroke-width="0.3" letter-spacing="0.492">3.400,00</text>
<text transform="translate(2423.09,350.00) scale(1.0640,1)" font-size="22.5" fill="#0f0f0f" stroke="#0f0f0f" stroke-width="0.3" letter-spacing="0.492">3.200,00</text>
<text transform="translate(2423.09,437.30) scale(1.0640,1)" font-size="22.5" fill="#0f0f0f" stroke="#0f0f0f" stroke-width="0.3" letter-spacing="0.492">3.000,00</text>
<text transform="translate(2422.85,531.50) scale(1.0658,1)" font-size="22.5" fill="#0f0f0f" stroke="#0f0f0f" stroke-width="0.3" letter-spacing="0.503">2.800,00</text>
<text transform="translate(2422.85,633.30) scale(1.0658,1)" font-size="22.5" fill="#0f0f0f" stroke="#0f0f0f" stroke-width="0.3" letter-spacing="0.503">2.600,00</text>
<text transform="translate(2422.85,715.30) scale(1.0658,1)" font-size="22.5" fill="#0f0f0f" stroke="#0f0f0f" stroke-width="0.3" letter-spacing="0.503">2.450,00</text>
<text transform="translate(2422.85,783.50) scale(1.0658,1)" font-size="22.5" fill="#0f0f0f" stroke="#0f0f0f" stroke-width="0.3" letter-spacing="0.503">2.330,00</text>
<text transform="translate(2422.85,855.50) scale(1.0658,1)" font-size="22.5" fill="#0f0f0f" stroke="#0f0f0f" stroke-width="0.3" letter-spacing="0.503">2.210,00</text>
<text transform="translate(2422.85,933.00) scale(1.0658,1)" font-size="22.5" fill="#0f0f0f" stroke="#0f0f0f" stroke-width="0.3" letter-spacing="0.503">2.090,00</text>
<text transform="translate(2423.15,1000.20) scale(1.0638,1)" font-size="22.5" fill="#0f0f0f" stroke="#0f0f0f" stroke-width="0.3" letter-spacing="0.486">1.990,00</text>
<text transform="translate(2423.15,1071.00) scale(1.0638,1)" font-size="22.5" fill="#0f0f0f" stroke="#0f0f0f" stroke-width="0.3" letter-spacing="0.486">1.890,00</text>
<text transform="translate(2423.15,1129.20) scale(1.0638,1)" font-size="22.5" fill="#0f0f0f" stroke="#0f0f0f" stroke-width="0.3" letter-spacing="0.486">1.810,00</text>
<text transform="translate(2423.15,1191.60) scale(1.0638,1)" font-size="22.5" fill="#0f0f0f" stroke="#0f0f0f" stroke-width="0.3" letter-spacing="0.486">1.730,00</text>
<text transform="translate(2423.15,1255.80) scale(1.0638,1)" font-size="22.5" fill="#0f0f0f" stroke="#0f0f0f" stroke-width="0.3" letter-spacing="0.486">1.650,00</text>
<text transform="translate(2423.15,1313.70) scale(1.0638,1)" font-size="22.5" fill="#0f0f0f" stroke="#0f0f0f" stroke-width="0.3" letter-spacing="0.486">1.582,00</text>
<path d="M2329,310.1 H2404.9 V342 H2329 a3,3 0 0 1 -3,-3 V313.1 a3,3 0 0 1 3,-3 Z" fill="#f23645"/>
<path d="M2406.9,310.1 H2529 a3,3 0 0 1 3,3 V339 a3,3 0 0 1 -3,3 H2406.9 Z" fill="#f23645"/>
<text transform="translate(2333.72,334.70) scale(0.9799,1)" font-size="23" fill="#fff" stroke="#fff" stroke-width="0.3" letter-spacing="-0.286">GOLD</text>
<text transform="translate(2423.09,332.70) scale(1.0649,1)" font-size="22.5" fill="#fff" stroke="#fff" stroke-width="0.3" letter-spacing="0.498">3.240,93</text>
<rect x="2413" y="58.6" width="120.6" height="49" rx="7.5" fill="#fff" stroke="#f1f1f1" stroke-width="1.7"/>
<text transform="translate(2429.66,91.75) scale(0.9807,1)" font-size="23.0" fill="#0f0f0f" stroke="#0f0f0f" stroke-width="0.3" letter-spacing="-0.300">USD</text>
<path d="M2487.6,118.6 L2489.2,115.4" stroke="#222" stroke-width="1.9" fill="none"/>
<text transform="translate(106.94,1359.00) scale(1.0608,1)" font-size="22.5" fill="#0f0f0f" stroke="#0f0f0f" stroke-width="0.3" letter-spacing="0.629">Mai</text>
<text transform="translate(216.99,1359.00) scale(1.0538,1)" font-size="22.5" fill="#0f0f0f" stroke="#0f0f0f" stroke-width="0.3" letter-spacing="0.458">Jul</text>
<text transform="translate(316.82,1359.00) scale(1.0183,1)" font-size="22.5" fill="#0f0f0f" stroke="#0f0f0f" stroke-width="0.3" letter-spacing="0.228">Sep</text>
<text transform="translate(416.52,1359.00) scale(1.0183,1)" font-size="22.5" fill="#0f0f0f" stroke="#0f0f0f" stroke-width="0.3" letter-spacing="0.228">Nov</text>
<text transform="translate(514.02,1359.00) scale(1.1859,1)" font-size="22.5" font-weight="700" fill="#0f0f0f" letter-spacing="0.000">2023</text>
<text transform="translate(622.37,1359.00) scale(1.0740,1)" font-size="22.5" fill="#0f0f0f" stroke="#0f0f0f" stroke-width="0.3" letter-spacing="0.794">Mrz</text>
<text transform="translate(728.94,1359.00) scale(1.0608,1)" font-size="22.5" fill="#0f0f0f" stroke="#0f0f0f" stroke-width="0.3" letter-spacing="0.629">Mai</text>
<text transform="translate(839.99,1359.00) scale(1.0538,1)" font-size="22.5" fill="#0f0f0f" stroke="#0f0f0f" stroke-width="0.3" letter-spacing="0.458">Jul</text>
<text transform="translate(938.82,1359.00) scale(1.0183,1)" font-size="22.5" fill="#0f0f0f" stroke="#0f0f0f" stroke-width="0.3" letter-spacing="0.228">Sep</text>
<text transform="translate(1043.52,1359.00) scale(1.0183,1)" font-size="22.5" fill="#0f0f0f" stroke="#0f0f0f" stroke-width="0.3" letter-spacing="0.228">Nov</text>
<text transform="translate(1135.51,1359.00) scale(1.1899,1)" font-size="22.5" font-weight="700" fill="#0f0f0f" letter-spacing="0.000">2024</text>
<text transform="translate(1249.37,1359.00) scale(1.0740,1)" font-size="22.5" fill="#0f0f0f" stroke="#0f0f0f" stroke-width="0.3" letter-spacing="0.794">Mrz</text>
<text transform="translate(1355.94,1359.00) scale(1.0608,1)" font-size="22.5" fill="#0f0f0f" stroke="#0f0f0f" stroke-width="0.3" letter-spacing="0.629">Mai</text>
<text transform="translate(1461.99,1359.00) scale(1.0538,1)" font-size="22.5" fill="#0f0f0f" stroke="#0f0f0f" stroke-width="0.3" letter-spacing="0.458">Jul</text>
<text transform="translate(1566.02,1359.00) scale(1.0183,1)" font-size="22.5" fill="#0f0f0f" stroke="#0f0f0f" stroke-width="0.3" letter-spacing="0.228">Sep</text>
<text transform="translate(1670.25,1359.00) scale(1.0262,1)" font-size="22.5" fill="#0f0f0f" stroke="#0f0f0f" stroke-width="0.3" letter-spacing="0.324">Nov</text>
<text transform="translate(1762.55,1359.00) scale(1.2112,1)" font-size="22.5" font-weight="700" fill="#0f0f0f" letter-spacing="0.000">2025</text>
<text transform="translate(1876.67,1359.00) scale(1.0740,1)" font-size="22.5" fill="#0f0f0f" stroke="#0f0f0f" stroke-width="0.3" letter-spacing="0.794">Mrz</text>
<text transform="translate(1978.94,1359.00) scale(1.0608,1)" font-size="22.5" fill="#0f0f0f" stroke="#0f0f0f" stroke-width="0.3" letter-spacing="0.629">Mai</text>
<text transform="translate(2088.99,1359.00) scale(1.0538,1)" font-size="22.5" fill="#0f0f0f" stroke="#0f0f0f" stroke-width="0.3" letter-spacing="0.458">Jul</text>
<text transform="translate(2188.32,1359.00) scale(1.0183,1)" font-size="22.5" fill="#0f0f0f" stroke="#0f0f0f" stroke-width="0.3" letter-spacing="0.228">Sep</text>
<text transform="translate(2292.49,1359.00) scale(1.0340,1)" font-size="22.5" fill="#0f0f0f" stroke="#0f0f0f" stroke-width="0.3" letter-spacing="0.418">Nov</text>
<clipPath id="cl"><rect x="20" y="1330" width="100" height="45"/></clipPath><g clip-path="url(#cl)">
<text transform="translate(-0.08,1359.00) scale(1.0740,1)" font-size="22.5" fill="#0f0f0f" stroke="#0f0f0f" stroke-width="0.3" letter-spacing="0.794">Mrz</text>
</g>
<text transform="translate(19.07,41.60) scale(1.0224,1)" font-size="23" fill="#0f0f0f" stroke="#0f0f0f" stroke-width="0.3" letter-spacing="0.164">Konrad_1 freigegeben für TradingView.com, Mai 04, 2025 10:59 UTC+2</text>
<text transform="translate(34.41,92.30) scale(1.0175,1)" font-size="22.5" fill="#0f0f0f" stroke="#0f0f0f" stroke-width="0.3" letter-spacing="0.172">Gold</text>
<circle cx="93.3" cy="86.9" r="1.75" fill="#0f0f0f"/>
<text transform="translate(103.66,92.30) scale(0.9674,1)" font-size="22.5" fill="#0f0f0f" stroke="#0f0f0f" stroke-width="0.3" letter-spacing="-0.553">2T</text>
<circle cx="141.2" cy="86.9" r="1.75" fill="#0f0f0f"/>
<text transform="translate(151.03,92.30) scale(0.9994,1)" font-size="22.5" fill="#0f0f0f" stroke="#0f0f0f" stroke-width="0.3" letter-spacing="-0.006">CAPITALCOM</text>
<text transform="translate(308.94,92.30) scale(1.0000,1)" font-size="22.5" fill="#0f0f0f" stroke="#0f0f0f" stroke-width="0.3" letter-spacing="0.000">O</text>
<text transform="translate(327.01,92.30) scale(1.0491,1)" font-size="22.5" fill="#f23645" stroke="#f23645" stroke-width="0.3" letter-spacing="0.381">3.288,62</text>
<text transform="translate(434.15,92.30) scale(1.0000,1)" font-size="22.5" fill="#0f0f0f" stroke="#0f0f0f" stroke-width="0.3" letter-spacing="0.000">H</text>
<text transform="translate(452.04,92.30) scale(1.0166,1)" font-size="22.5" fill="#f23645" stroke="#f23645" stroke-width="0.3" letter-spacing="0.133">3.290,13</text>
<text transform="translate(555.75,92.30) scale(1.0000,1)" font-size="22.5" fill="#0f0f0f" stroke="#0f0f0f" stroke-width="0.3" letter-spacing="0.000">L</text>
<text transform="translate(569.76,92.30) scale(0.9908,1)" font-size="22.5" fill="#f23645" stroke="#f23645" stroke-width="0.3" letter-spacing="-0.076">3.201,91</text>
<text transform="translate(670.73,92.30) scale(1.0000,1)" font-size="22.5" fill="#0f0f0f" stroke="#0f0f0f" stroke-width="0.3" letter-spacing="0.000">C</text>
<text transform="translate(687.31,92.30) scale(1.0418,1)" font-size="22.5" fill="#f23645" stroke="#f23645" stroke-width="0.3" letter-spacing="0.328">3.240,93</text>
<text transform="translate(795.11,92.30) scale(1.0098,1)" font-size="22.5" fill="#f23645" stroke="#f23645" stroke-width="0.3" letter-spacing="0.087">−47,40</text>
<text transform="translate(876.87,92.30) scale(1.0194,1)" font-size="22.5" fill="#f23645" stroke="#f23645" stroke-width="0.3" letter-spacing="0.162">(−1,44%)</text>
<text transform="translate(2209.10,163.90) scale(1.0714,1)" font-size="56" font-weight="700" fill="#000" letter-spacing="0.000">3</text>
<path d="M2258.9,126.4 H2287.9 V132.9 L2272.3,163.3 H2263.1 L2278.4,133.20000000000002 H2258.9 Z" fill="#000"/>
<text transform="translate(2290.17,163.90) scale(1.1729,1)" font-size="56" font-weight="700" fill="#000" letter-spacing="0.000">0</text>
<text transform="translate(2325.78,163.90) scale(1.1692,1)" font-size="56" font-weight="700" fill="#000" letter-spacing="0.000">0</text>
<circle cx="2248.8" cy="159.9" r="4.5" fill="#000"/>
<text transform="translate(2209.10,456.90) scale(1.0714,1)" font-size="56" font-weight="700" fill="#000" letter-spacing="0.000">3</text>
<text transform="translate(2256.37,456.90) scale(1.1316,1)" font-size="56" font-weight="700" fill="#000" letter-spacing="0.000">0</text>
<text transform="translate(2290.82,456.90) scale(1.1504,1)" font-size="56" font-weight="700" fill="#000" letter-spacing="0.000">0</text>
<text transform="translate(2325.78,456.90) scale(1.1692,1)" font-size="56" font-weight="700" fill="#000" letter-spacing="0.000">0</text>
<circle cx="2248.8" cy="452.4" r="4.5" fill="#000"/>
<g fill="#0f0f0f"><path d="M18.8,1398.8 H33.6 V1417 H26.2 V1406.2 H18.8 Z"/><circle cx="39.2" cy="1402.5" r="3.7"/><path d="M47.3,1398.8 H55.6 L48.0,1417 H39.7 Z"/></g>
<text transform="translate(62.85,1417.00) scale(1.0326,1)" font-size="24" fill="#0f0f0f" stroke="#0f0f0f" stroke-width="0.3" letter-spacing="0.277">TradingView</text>
</svg>
</body></html>
